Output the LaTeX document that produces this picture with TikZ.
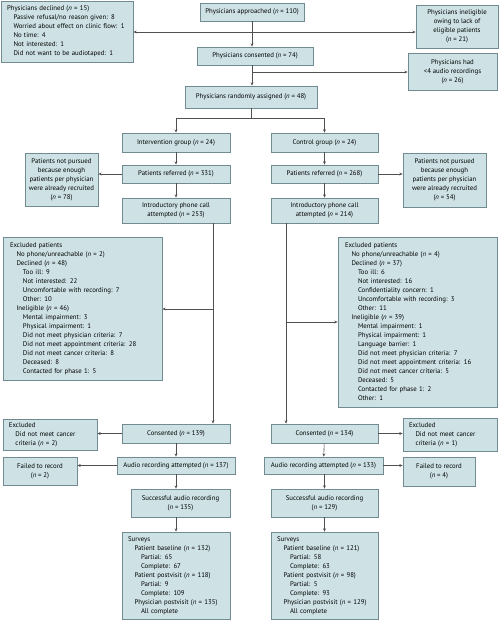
\documentclass[tikz,border=0pt]{standalone}
\usepackage{fontspec}
\setmainfont{PT Sans}
\usetikzlibrary{arrows.meta}
\definecolor{bfill}{RGB}{206,226,230}
\definecolor{bline}{RGB}{112,140,146}
\definecolor{cline}{RGB}{80,80,80}
\newcommand\nn{\textit{n}}
\newcommand\ia{\hspace*{6.5pt}}
\newcommand\ib{\hspace*{13pt}}
\tikzset{
  box/.style={draw=bline, fill=bfill, line width=0.8pt, inner sep=0pt, align=center,
    font=\fontsize{6.8}{9}\selectfont, text=black},
  lbox/.style={box, align=left},
  arr/.style={draw=cline, line width=0.6pt, -{Stealth[length=3.2pt,width=2.8pt]}},
  ln/.style={draw=cline, line width=0.6pt}
}
\begin{document}
\begin{tikzpicture}[x=1pt,y=-1pt]
\useasboundingbox (0,0) rectangle (500,621);
% top
\node[lbox, minimum width=132, minimum height=61, text width=120] (decl) at (67,31.5)
 {Physicians declined (\nn{} = 15)\\
  \ia Passive refusal/no reason given: 8\\
  \ia Worried about effect on clinic flow: 1\\
  \ia No time: 4\\
  \ia Not interested: 1\\
  \ia Did not want to be audiotaped: 1};
\node[box, minimum width=104, minimum height=18] (appr) at (252,12) {Physicians approached (\nn{} = 110)};
\node[box, minimum width=82, minimum height=43] (inelig) at (457,26.5)
 {Physicians ineligible\\owing to lack of\\eligible patients\\(\nn{} = 21)};
\node[box, minimum width=116, minimum height=18] (cons) at (255,56) {Physicians consented (\nn{} = 74)};
\node[box, minimum width=89, minimum height=37] (lt4) at (452.5,71.5)
 {Physicians had\\<4 audio recordings\\(\nn{} = 26)};
\node[box, minimum width=132, minimum height=22] (rand) at (251,97) {Physicians randomly assigned (\nn{} = 48)};
% left arm
\node[box, minimum width=108, minimum height=19] (intv) at (176,142.5) {Intervention group (\nn{} = 24)};
\node[box, minimum width=108, minimum height=18] (refL) at (176,174) {Patients referred (\nn{} = 331)};
\node[box, minimum width=73, minimum height=53] (npL) at (61.5,179.5)
 {Patients not pursued\\because enough\\patients per physician\\were already recruited\\(\nn{} = 78)};
\node[box, minimum width=108, minimum height=25] (phL) at (176,210.5) {Introductory phone call\\attempted (\nn{} = 253)};
% right arm
\node[box, minimum width=107, minimum height=19] (ctrl) at (324.5,142.5) {Control group (\nn{} = 24)};
\node[box, minimum width=107, minimum height=18] (refR) at (324.5,174) {Patients referred (\nn{} = 268)};
\node[box, minimum width=83, minimum height=54] (npR) at (444.5,180)
 {Patients not pursued\\because enough\\patients per physician\\were already recruited\\(\nn{} = 54)};
\node[box, minimum width=107, minimum height=25] (phR) at (324.5,210.5) {Introductory phone call\\attempted (\nn{} = 214)};
% excluded patients
\node[lbox, minimum width=159, minimum height=143, text width=145] (exL) at (82.5,308.5)
 {Excluded patients\\
  \ia No phone/unreachable (\nn{} = 2)\\
  \ia Declined (\nn{} = 48)\\
  \ib Too ill: 9\\
  \ib Not interested: 22\\
  \ib Uncomfortable with recording: 7\\
  \ib Other: 10\\
  \ia Ineligible (\nn{} = 46)\\
  \ib Mental impairment: 3\\
  \ib Physical impairment: 1\\
  \ib Did not meet physician criteria: 7\\
  \ib Did not meet appointment criteria: 28\\
  \ib Did not meet cancer criteria: 8\\
  \ib Deceased: 8\\
  \ib Contacted for phase 1: 5};
\node[lbox, minimum width=159, minimum height=170, text width=145] (exR) at (417.5,322)
 {Excluded patients\\
  \ia No phone/unreachable (\nn{} = 4)\\
  \ia Declined (\nn{} = 37)\\
  \ib Too ill: 6\\
  \ib Not interested: 16\\
  \ib Confidentiality concern: 1\\
  \ib Uncomfortable with recording: 3\\
  \ib Other: 11\\
  \ia Ineligible (\nn{} = 39)\\
  \ib Mental impairment: 1\\
  \ib Physical impairment: 1\\
  \ib Language barrier: 1\\
  \ib Did not meet physician criteria: 7\\
  \ib Did not meet appointment criteria: 16\\
  \ib Did not meet cancer criteria: 5\\
  \ib Deceased: 5\\
  \ib Contacted for phase 1: 2\\
  \ib Other: 1};
% bottom left
\node[box, minimum width=108, minimum height=19] (consL) at (176,433.5) {Consented (\nn{} = 139)};
\node[lbox, minimum width=94, minimum height=31, text width=82] (excL) at (50,435)
 {Excluded\\\ia Did not meet cancer\\\ia criteria (\nn{} = 2)};
\node[box, minimum width=118, minimum height=17] (audL) at (176,465.5) {Audio recording attempted (\nn{} = 137)};
\node[box, minimum width=74, minimum height=28] (failL) at (40,471) {Failed to record\\(\nn{} = 2)};
\node[box, minimum width=99, minimum height=28] (succL) at (180.5,503) {Successful audio recording\\(\nn{} = 135)};
\node[lbox, minimum width=108, minimum height=87, text width=96] (survL) at (176,575.5)
 {Surveys\\
  \ia Patient baseline (\nn{} = 132)\\
  \ib Partial: 65\\
  \ib Complete: 67\\
  \ia Patient postvisit (\nn{} = 118)\\
  \ib Partial: 9\\
  \ib Complete: 109\\
  \ia Physician postvisit (\nn{} = 135)\\
  \ib All complete};
% bottom right
\node[box, minimum width=107, minimum height=19] (consR) at (324.5,433.5) {Consented (\nn{} = 134)};
\node[lbox, minimum width=94, minimum height=33, text width=82] (excR) at (450,434.5)
 {Excluded\\\ia Did not meet cancer\\\ia criteria (\nn{} = 1)};
\node[box, minimum width=119, minimum height=17] (audR) at (323.5,465.5) {Audio recording attempted (\nn{} = 133)};
\node[box, minimum width=72, minimum height=29] (failR) at (439,471.5) {Failed to record\\(\nn{} = 4)};
\node[box, minimum width=107, minimum height=28] (succR) at (324.5,503) {Successful audio recording\\(\nn{} = 129)};
\node[lbox, minimum width=107, minimum height=87, text width=95] (survR) at (324.5,575.5)
 {Surveys\\
  \ia Patient baseline (\nn{} = 121)\\
  \ib Partial: 58\\
  \ib Complete: 63\\
  \ia Patient postvisit (\nn{} = 98)\\
  \ib Partial: 5\\
  \ib Complete: 93\\
  \ia Physician postvisit (\nn{} = 129)\\
  \ib All complete};
% connectors top
\coordinate (j1) at (252,32);
\coordinate (j2) at (252,72);
\coordinate (sp) at (251,118);
\draw[arr] (appr.south -| j1) -- (cons.north -| j1);
\draw[arr] (j1) -- (j1 -| decl.east);
\draw[arr] (j1) -- (j1 -| inelig.west);
\draw[arr] (cons.south -| j2) -- (rand.north -| j2);
\draw[arr] (j2) -- (j2 -| lt4.west);
\draw[ln] (rand.south -| sp) -- (sp);
\draw[arr] (sp) -| (intv.north);
\draw[arr] (sp) -| (ctrl.north);
% arms
\draw[arr] (intv) -- (refL);
\draw[arr] (refL) -- (phL);
\draw[arr] (refL.west) -- (refL.west -| npL.east);
\draw[arr] (ctrl) -- (refR);
\draw[arr] (refR) -- (phR);
\draw[arr] (refR.east) -- (refR.east -| npR.west);
\coordinate (vL) at (213,309);
\coordinate (vR) at (286,322);
\draw[arr] (phL.south -| vL) -- (consL.north -| vL);
\draw[arr] (vL) -- (vL -| exL.east);
\draw[arr] (phR.south -| vR) -- (consR.north -| vR);
\draw[arr] (vR) -- (vR -| exR.west);
% bottom
\draw[arr] (consL.west) -- (consL.west -| excL.east);
\draw[arr] (consL) -- (audL);
\draw[arr] (audL.west) -- (audL.west -| failL.east);
\draw[arr] (audL.south -| survL.north) -- (succL.north -| survL.north);
\draw[arr] (succL.south -| survL.north) -- (survL.north);
\draw[arr] (consR.east) -- (consR.east -| excR.west);
\draw[arr] (consR) -- (audR);
\draw[arr] (audR.east) -- (audR.east -| failR.west);
\draw[arr] (audR.south -| succR.north) -- (succR.north);
\draw[arr] (succR) -- (survR);
\end{tikzpicture}
\end{document}
